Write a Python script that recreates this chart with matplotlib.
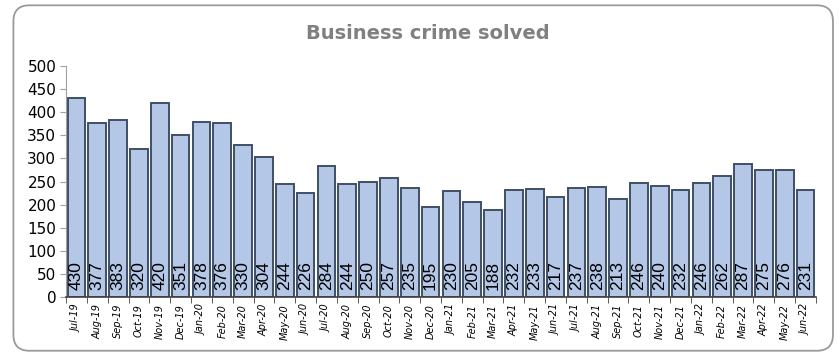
import matplotlib.pyplot as plt
from matplotlib.patches import FancyBboxPatch
import numpy as np

months = ['Jul-19', 'Aug-19', 'Sep-19', 'Oct-19', 'Nov-19', 'Dec-19',
          'Jan-20', 'Feb-20', 'Mar-20', 'Apr-20', 'May-20', 'Jun-20',
          'Jul-20', 'Aug-20', 'Sep-20', 'Oct-20', 'Nov-20', 'Dec-20',
          'Jan-21', 'Feb-21', 'Mar-21', 'Apr-21', 'May-21', 'Jun-21',
          'Jul-21', 'Aug-21', 'Sep-21', 'Oct-21', 'Nov-21', 'Dec-21',
          'Jan-22', 'Feb-22', 'Mar-22', 'Apr-22', 'May-22', 'Jun-22']
solved = [430, 377, 383, 320, 420, 351, 378, 376, 330, 304, 244, 226,
          284, 244, 250, 257, 235, 195, 230, 205, 188, 232, 233, 217,
          237, 238, 213, 246, 240, 232, 246, 262, 287, 275, 276, 231]

fig = plt.figure(figsize=(8.38, 3.55), dpi=100)
ax = fig.add_axes([0.0788, 0.1634, 0.8949, 0.6506])

# rounded chart border
border = FancyBboxPatch((0.016, 0.012), 0.978, 0.973,
                        boxstyle='round,pad=0,rounding_size=0.019',
                        transform=fig.transFigure, facecolor='none',
                        edgecolor='#9a9a9a', linewidth=1.3, mutation_aspect=838/355)
fig.patches.append(border)

x = np.arange(len(months))
bars = ax.bar(x, solved, width=0.85, color='#b4c7e7', edgecolor='#3f4f66', linewidth=1.4)

for xi, v in zip(x, solved):
    ax.text(xi, 16, str(v), rotation=90, ha='center', va='bottom',
            fontsize=12.5, family='Liberation Sans', color='black')

ax.set_xlim(-0.5, len(months) - 0.5)
ax.set_ylim(0, 500)
ax.set_yticks(range(0, 501, 50))
ax.tick_params(axis='y', labelsize=11, length=4, color='#a0a0a0', pad=3)

ax.set_xticks(x)
ax.set_xticklabels(months, rotation=90, fontsize=7, style='italic')
ax.tick_params(axis='x', length=0, pad=5)
ax.set_xticks(np.arange(-0.5, len(months)), minor=True)
ax.tick_params(axis='x', which='minor', length=4, color='#404040', direction='out')

for s in ['top', 'right']:
    ax.spines[s].set_visible(False)
ax.spines['left'].set_color('#a0a0a0')
ax.spines['bottom'].set_color('#404040')
ax.spines['bottom'].set_linewidth(1.2)

fig.text(0.51, 0.905, 'Business crime solved', ha='center', va='center',
         fontsize=14, fontweight='bold', color='#808080')

fig.savefig('out.png', dpi=100)
